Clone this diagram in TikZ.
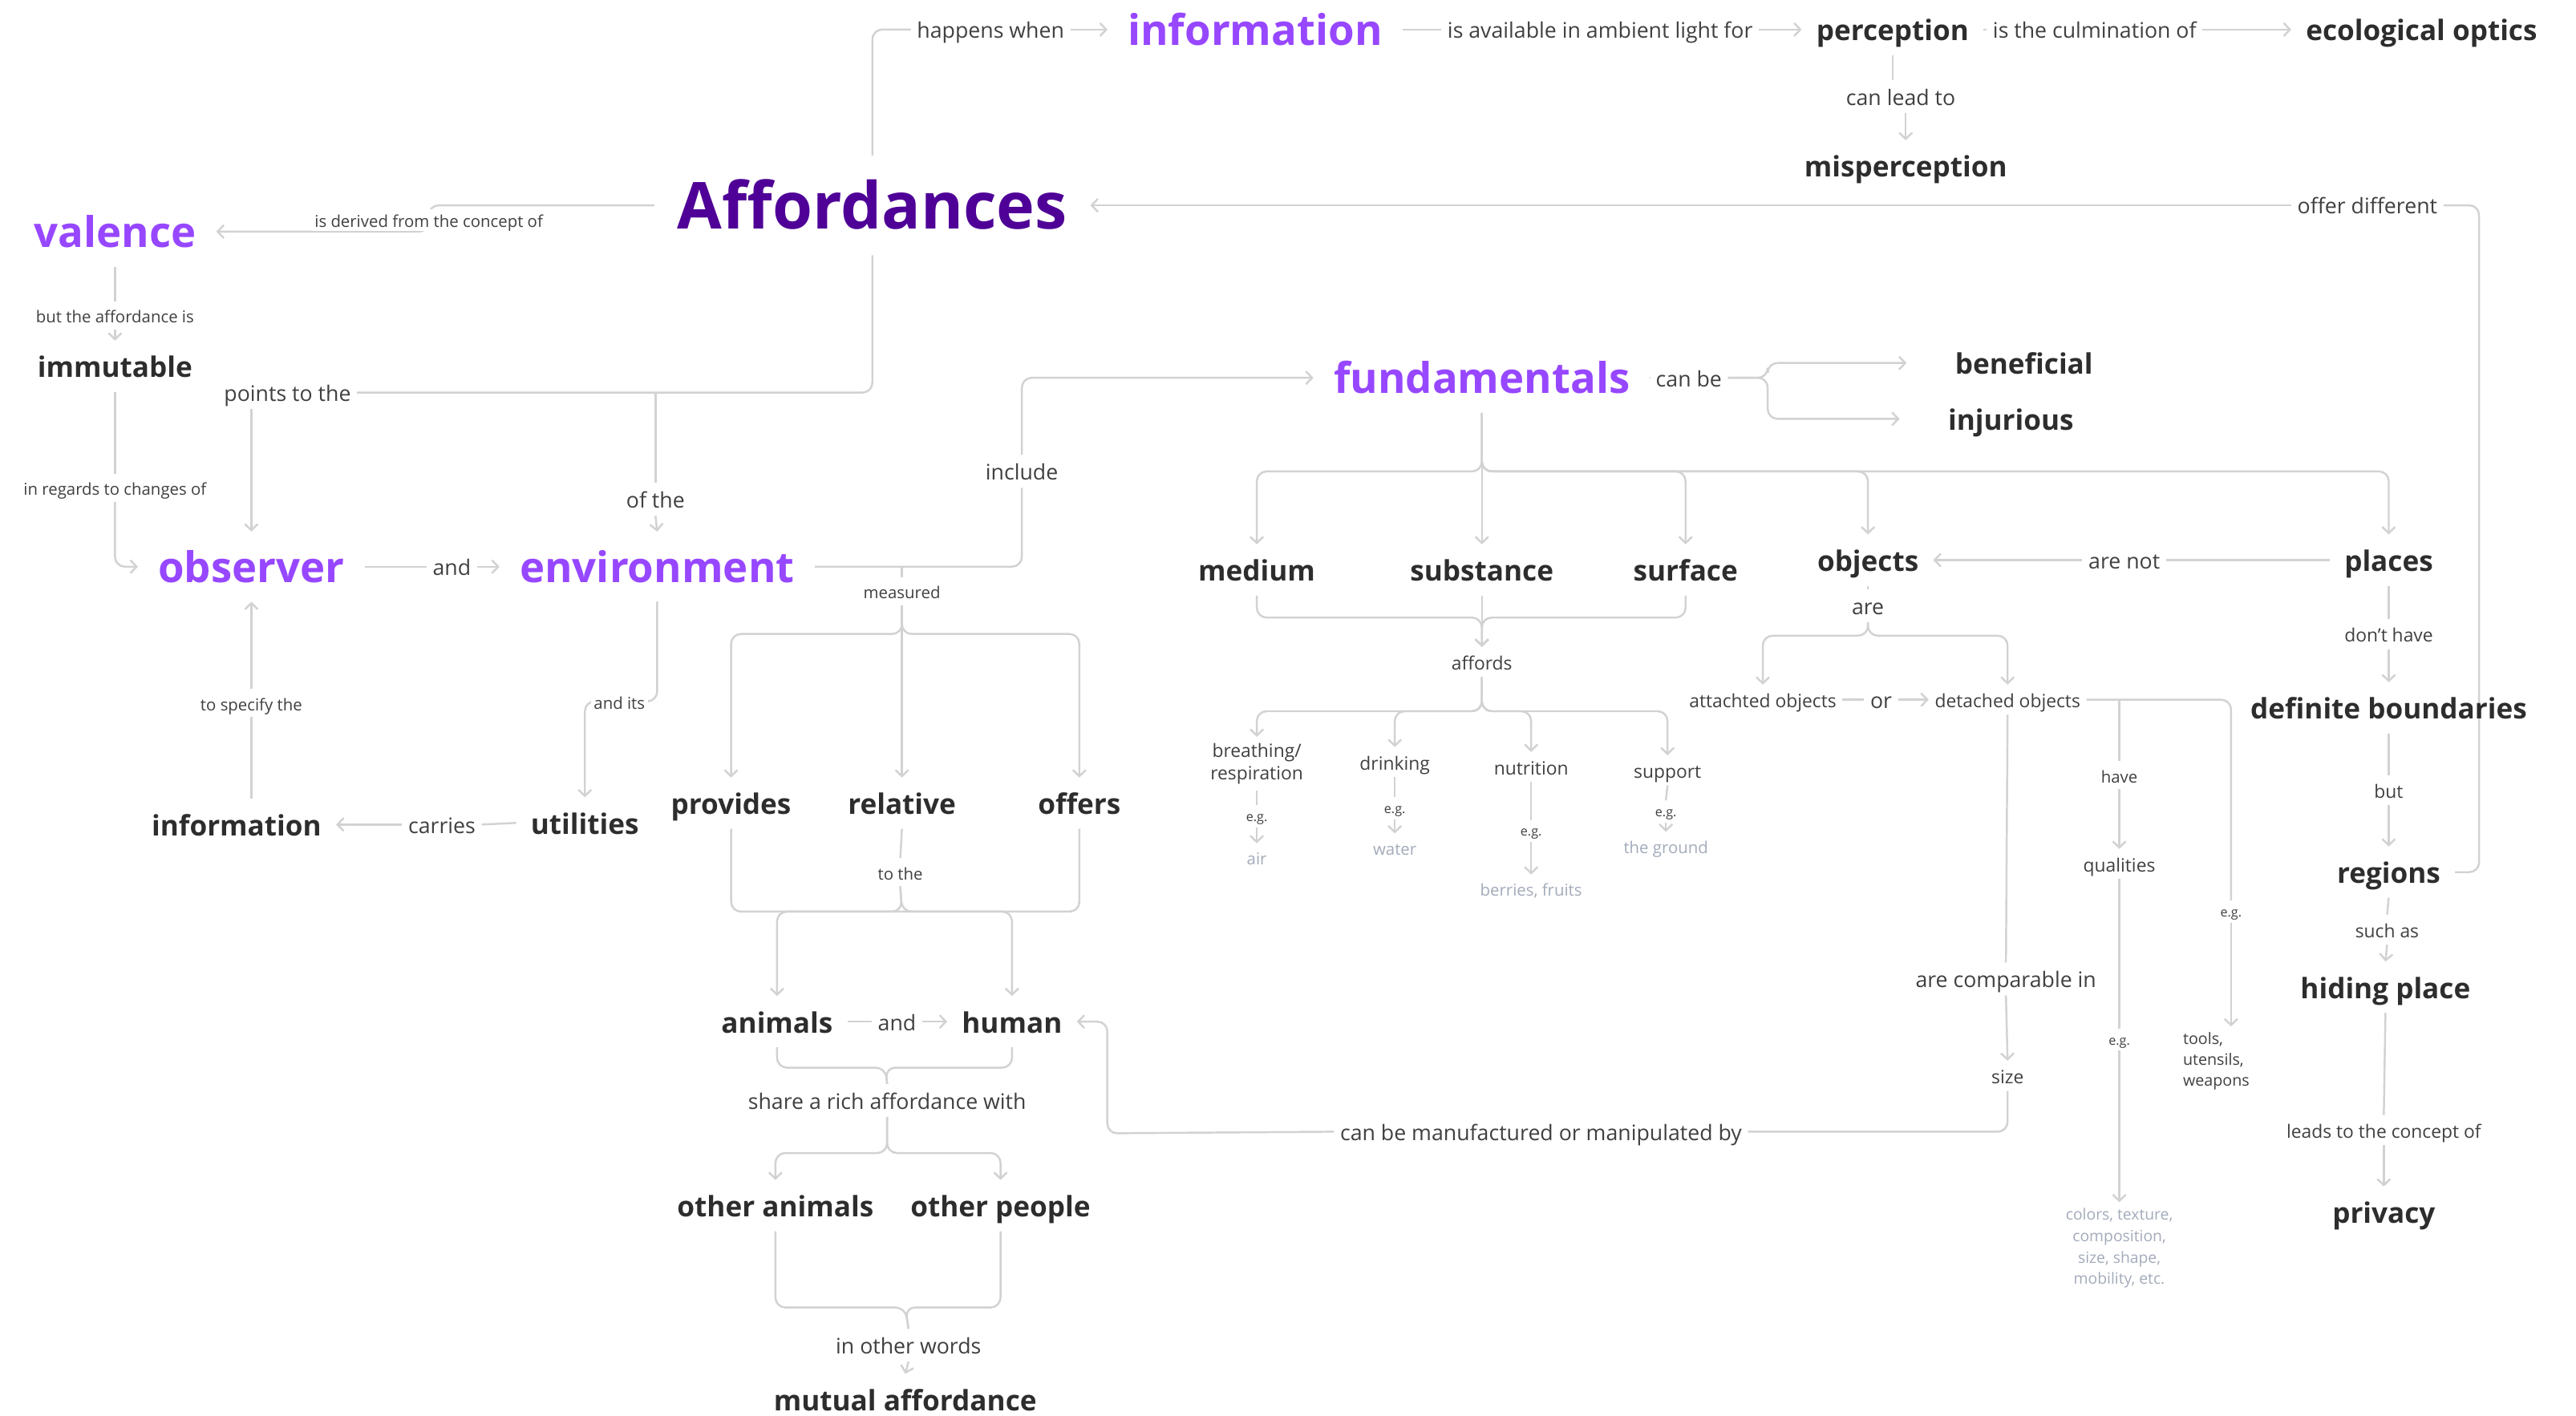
\documentclass[tikz,border=0pt]{standalone}
\usepackage{fontspec}
\setmainfont{Open Sans}
\usetikzlibrary{arrows.meta}
\pgfdeclarelayer{background}
\pgfdeclarelayer{wires}
\pgfsetlayers{background,wires,main}

\definecolor{purp}{HTML}{9747FF}
\definecolor{deeppurp}{HTML}{4F0097}
\definecolor{ink}{HTML}{2D2D2D}
\definecolor{labc}{HTML}{404040}
\definecolor{exc}{HTML}{A3ABBA}
\definecolor{wirec}{HTML}{D2D2D2}

\newcommand\fsAff{\fontsize{23}{27}\selectfont\bfseries}
\newcommand\fsHub{\fontsize{15}{18}\selectfont\bfseries}
\newcommand\fsNode{\fontsize{10}{12}\selectfont\bfseries}
\newcommand\fsLab{\fontsize{7.6}{9}\selectfont}
\newcommand\fsMid{\fontsize{6.5}{8.2}\selectfont}
\newcommand\fsSm{\fontsize{5.8}{7}\selectfont}
\newcommand\fsTiny{\fontsize{4.6}{5.5}\selectfont}

\begin{document}
\begin{tikzpicture}[x=0.020485cm,y=-0.020485cm,
  wire/.style={draw=wirec,line width=0.7pt,rounded corners=3.5pt},
  arr/.style={wire,-{Straight Barb[length=2.2pt,width=4.6pt]}},
  affnode/.style={text=deeppurp,font=\fsAff,inner xsep=8pt,inner ysep=9pt,text height=17pt,text depth=0pt},
  hubnode/.style={text=purp,font=\fsHub,inner xsep=7pt,inner ysep=5pt,text height=12.75pt,text depth=1.75pt},
  cnode/.style={text=ink,font=\fsNode,inner xsep=5pt,inner ysep=4pt,text height=8.85pt,text depth=0.95pt},
  lbl/.style={text=labc,font=\fsLab,inner sep=2pt,text height=6.75pt,text depth=0.55pt},
  lblmd/.style={text=labc,font=\fsMid,inner sep=2pt,text height=6pt,text depth=0.3pt},
  lblsm/.style={text=labc,font=\fsSm,inner sep=2pt,text height=5.5pt,text depth=0.1pt},
  lbltiny/.style={text=labc,font=\fsTiny,inner sep=1.5pt,text height=4pt,text depth=0.4pt},
  exnode/.style={text=exc,font=\fsSm,inner sep=2pt,text height=5.5pt,text depth=0.1pt},
  cover/.style={fill=white,inner sep=1pt}
]
\useasboundingbox (0,0) rectangle (1568,862);
\begin{pgfonlayer}{background}
  \fill[white] (0,0) rectangle (1568,862);
\end{pgfonlayer}

% ---------- concepts ----------
\node[affnode] (aff) at (531,125) {Affordances};

\node[hubnode] (info1) at (764,18) {information};
\node[hubnode] (val) at (70,141) {valence};
\node[hubnode] (obs) at (153,345) {observer};
\node[hubnode] (env) at (400,345) {environment};
\node[hubnode] (fund) at (902,230) {fundamentals};

\node[cnode] (perc) at (1152,18) {perception};
\node[cnode] (eco) at (1474,18) {ecological optics};
\node[cnode] (misp) at (1160,101) {misperception};
\node[cnode] (immut) at (70,223) {immutable};
\node[cnode] (info2) at (144,502) {information};
\node[cnode] (util) at (356,501) {utilities};
\node[cnode] (prov) at (445,489) {provides};
\node[cnode] (rel) at (549,489) {relative};
\node[cnode] (offers) at (657,489) {offers};
\node[cnode] (anim) at (473,622) {animals};
\node[cnode] (human) at (616,622) {human};
\node[cnode] (oanim) at (472,734) {other animals};
\node[cnode] (opeople) at (609,734) {other people};
\node[cnode] (mutual) at (551,852) {mutual affordance};
\node[cnode] (benef) at (1232,221) {beneficial};
\node[cnode] (injur) at (1224,255) {injurious};
\node[cnode] (medium) at (765,347) {medium};
\node[cnode] (substance) at (902,347) {substance};
\node[cnode] (surface) at (1026,347) {surface};
\node[cnode] (objects) at (1137,341) {objects};
\node[cnode] (places) at (1454,341) {places};
\node[cnode] (defb) at (1454,431) {definite boundaries};
\node[cnode] (regions) at (1454,531) {regions};
\node[cnode] (hiding) at (1452,601) {hiding place};
\node[cnode] (privacy) at (1451,738) {privacy};

% ---------- linking phrases ----------
\node[lbl] (happens) at (603,18) {happens when};
\node[lbl] (avail) at (974,18) {is available in ambient light for};
\node[lbl] (culm) at (1275,18) {is the culmination of};
\node[lbl] (canlead) at (1157,59) {can lead to};
\node[lbl] (offerdiff) at (1441,125) {offer different};
\node[lbl] (points) at (175,239) {points to the};
\node[lbl] (ofthe) at (399,304) {of the};
\node[lbl] (and1) at (275,345) {and};
\node[lbl] (include) at (622,287) {include};
\node[lbl] (canbe) at (1028,230) {can be};
\node[lbl] (carries) at (269,502) {carries};
\node[lbl] (and2) at (546,622) {and};
\node[lbl] (share) at (540,670) {share a rich affordance with};
\node[lbl] (owords) at (553,819) {in other words};
\node[lbl] (manuf) at (938,689) {can be manufactured or manipulated by};
\node[lbl] (arenot) at (1293,341) {are not};
\node[lbl] (are) at (1137,369) {are};
\node[lbl] (or) at (1145,426) {or};
\node[lbl] (compar) at (1221,596) {are comparable in};
\node[lblmd] (leads) at (1451,688) {leads to the concept of};
\node[lblmd] (donthave) at (1454,386) {don’t have};
\node[lblmd] (but) at (1454,481) {but};
\node[lblmd] (suchas) at (1453,566) {such as};
\node[lblmd] (size) at (1222,655) {size};
\node[lblmd] (qual) at (1290,526) {qualities};

\node[lblsm,cover] (derived) at (261,134) {is derived from the concept of};
\node[lblsm] (butaff) at (70,192) {but the affordance is};
\node[lblsm] (regards) at (70,297) {in regards to changes of};
\node[lblsm] (specify) at (153,428) {to specify the};
\node[lblsm,cover] (andits) at (377,427) {and its};
\node[lblsm] (measured) at (549,360) {measured};
\node[lblsm] (tothe) at (548,531) {to the};
\node[lblmd] (affords) at (902,403) {affords};
\node[lblmd] (attached) at (1073,426) {attachted objects};
\node[lblmd] (detached) at (1222,426) {detached objects};
\node[lblsm] (have) at (1290,472) {have};
\node[lbltiny] (eg3) at (1358,555) {e.g.};
\node[lbltiny] (eg4) at (1290,633) {e.g.};
\node[text=labc,font=\fontsize{5.6}{7.3}\selectfont,align=left,inner sep=2pt] (tools) at (1349,646) {tools,\\utensils,\\weapons};
\node[text=exc,font=\fontsize{5.5}{7.6}\selectfont,align=center,inner sep=2pt] (colors) at (1290,760) {colors, texture,\\composition,\\size, shape,\\mobility, etc.};

% what the fundamentals afford
\node[text=labc,font=\fsMid,align=center,inner sep=2pt] (breath) at (765,465) {breathing/\\respiration};
\node[lblmd] (drink) at (849,464) {drinking};
\node[lblmd] (nutr) at (932,467) {nutrition};
\node[lblmd] (supp) at (1015,469) {support};
\node[lbltiny] (eg1a) at (765,497) {e.g.};
\node[lbltiny] (eg1b) at (849,492) {e.g.};
\node[lbltiny] (eg1c) at (932,506) {e.g.};
\node[lbltiny] (eg1d) at (1014,494) {e.g.};
\node[exnode] (air) at (765,522) {air};
\node[exnode] (water) at (849,516) {water};
\node[exnode] (berries) at (932,541) {berries, fruits};
\node[exnode] (ground) at (1014,515) {the ground};

% fork points
\coordinate (mfork) at (549,386);
\coordinate (pfork) at (549,555);
\coordinate (afork) at (539,650);
\coordinate (sfork) at (540,702);
\coordinate (ofork) at (551,796);
\coordinate (cfork) at (1076,230);
\coordinate (ffork) at (902,287);
\coordinate (sfk) at (902,376);
\coordinate (afk) at (902,433);
\coordinate (ofk) at (1137,387);
\coordinate (mcorner) at (674,690);
\coordinate (rcorner) at (1509,531);

% ---------- connectors ----------
\begin{pgfonlayer}{wires}
% top row
\draw[wire] (aff.north) |- (happens.west);
\draw[arr] (happens.east) -- (info1.west);
\draw[wire] (info1.east) -- (avail.west);
\draw[arr] (avail.east) -- (perc.west);
\draw[wire] (perc.east) -- (culm.west);
\draw[arr] (culm.east) -- (eco.west);
\draw[wire] (perc.south) -- (perc.south |- canlead.north);
\draw[arr] (misp.north |- canlead.south) -- (misp.north);

% left column
\draw[arr] (aff.west) -- (aff.west -| derived.center) |- (val.east);
\draw[wire] (val.south) -- (butaff.north);
\draw[arr] (butaff.south) -- (immut.north);
\draw[wire] (immut.south) -- (regards.north);
\draw[arr] (regards.south) |- (obs.west);

% observer and environment
\draw[wire] (aff.south) |- (points.east);
\draw[arr] (points.south -| obs.north) -- (obs.north);
\draw[wire] (points.east -| ofthe.north) -- (ofthe.north);
\draw[arr] (ofthe.south) -- (env.north);
\draw[wire] (obs.east) -- (and1.west);
\draw[arr] (and1.east) -- (env.west);
\draw[wire] (env.east) -| (include.south);
\draw[arr] (include.north) |- (fund.west);
\draw[wire] (measured.north) -- (measured.north |- env.east);
\draw[arr] (measured.south) -- (mfork) -| (prov.north);
\draw[arr] (measured.south) -- (rel.north);
\draw[arr] (measured.south) -- (mfork) -| (offers.north);
\draw[wire] (prov.south) |- (pfork);
\draw[wire] (offers.south) |- (pfork);
\draw[wire] (rel.south) -- (tothe.north);
\draw[arr] (tothe.south) -- (pfork) -| (anim.north);
\draw[arr] (tothe.south) -- (pfork) -| (human.north);
\draw[wire] (anim.east) -- (and2.west);
\draw[arr] (and2.east) -- (human.west);
\draw[wire] (anim.south) |- (afork) -- (share.north);
\draw[wire] (human.south) |- (afork) -- (share.north);
\draw[arr] (share.south) -- (sfork) -| (oanim.north);
\draw[arr] (share.south) -- (sfork) -| (opeople.north);
\draw[wire] (oanim.south) |- (ofork) -- (owords.north);
\draw[wire] (opeople.south) |- (ofork) -- (owords.north);
\draw[arr] (owords.south) -- (mutual.north);
\draw[arr] (env.south) |- (andits.center) -| (util.north);
\draw[wire] (util.west) -- (carries.east);
\draw[arr] (carries.west) -- (info2.east);
\draw[wire] (info2.north -| specify.south) -- (specify.south);
\draw[arr] (specify.north) -- (obs.south);

% fundamentals
\draw[wire] (fund.east) -- (canbe.west);
\draw[arr,shorten >=12pt] (canbe.east) -- (cfork) |- (benef.west);
\draw[arr,shorten >=12pt] (canbe.east) -- (cfork) |- (injur.west);
\draw[arr] (fund.south) -- (ffork) -| (medium.north);
\draw[arr] (fund.south) -- (substance.north);
\draw[arr] (fund.south) -- (ffork) -| (surface.north);
\draw[arr] (fund.south) -- (ffork) -| (objects.north);
\draw[arr] (fund.south) -- (ffork) -| (places.north);
\draw[arr] (medium.south) |- (sfk) -- (affords.north);
\draw[arr] (surface.south) |- (sfk) -- (affords.north);
\draw[arr] (substance.south) -- (affords.north);
\draw[arr] (affords.south) -- (afk) -| (breath.north);
\draw[arr] (affords.south) -- (afk) -| (drink.north);
\draw[arr] (affords.south) -- (afk) -| (nutr.north);
\draw[arr] (affords.south) -- (afk) -| (supp.north);
\draw[wire] (breath.south) -- (eg1a.north);
\draw[arr] (eg1a.south) -- (air.north);
\draw[wire] (drink.south) -- (eg1b.north);
\draw[arr] (eg1b.south) -- (water.north);
\draw[wire] (nutr.south) -- (eg1c.north);
\draw[arr] (eg1c.south) -- (berries.north);
\draw[wire] (supp.south) -- (eg1d.north);
\draw[arr] (eg1d.south) -- (ground.north);

% objects
\draw[wire] (places.west) -- (arenot.east);
\draw[arr] (arenot.west) -- (objects.east);
\draw[wire] (objects.south) -- (are.north);
\draw[arr] (are.south) -- (ofk) -| (attached.north);
\draw[arr] (are.south) -- (ofk) -| (detached.north);
\draw[wire] (attached.east) -- (or.west);
\draw[arr] (or.east) -- (detached.west);
\draw[wire] (detached.south) -- (compar.north);
\draw[arr] (compar.south) -- (size.north);
\draw[wire] (detached.east) -| (eg3.north);
\draw[arr] (eg3.south) -- (eg3.south |- tools.north);
\draw[wire] (detached.east -| have.north) -- (have.north);
\draw[arr] (have.south) -- (qual.north);
\draw[wire] (qual.south) -- (eg4.north);
\draw[arr] (eg4.south) -- (colors.north);
\draw[wire] (size.south) |- (manuf.east);
\draw[arr] (manuf.west) -- (mcorner) |- (human.east);

% places
\draw[wire] (places.south) -- (donthave.north);
\draw[arr] (donthave.south) -- (defb.north);
\draw[wire] (defb.south) -- (but.north);
\draw[arr] (but.south) -- (regions.north);
\draw[wire] (regions.south) -- (suchas.north);
\draw[arr] (suchas.south) -- (hiding.north);
\draw[wire] (hiding.south) -- (leads.north);
\draw[arr] (leads.south) -- (privacy.north);
\draw[wire] (regions.east) -- (rcorner) |- (offerdiff.east);
\draw[arr] (offerdiff.west) -- (aff.east);
\end{pgfonlayer}
\end{tikzpicture}
\end{document}
